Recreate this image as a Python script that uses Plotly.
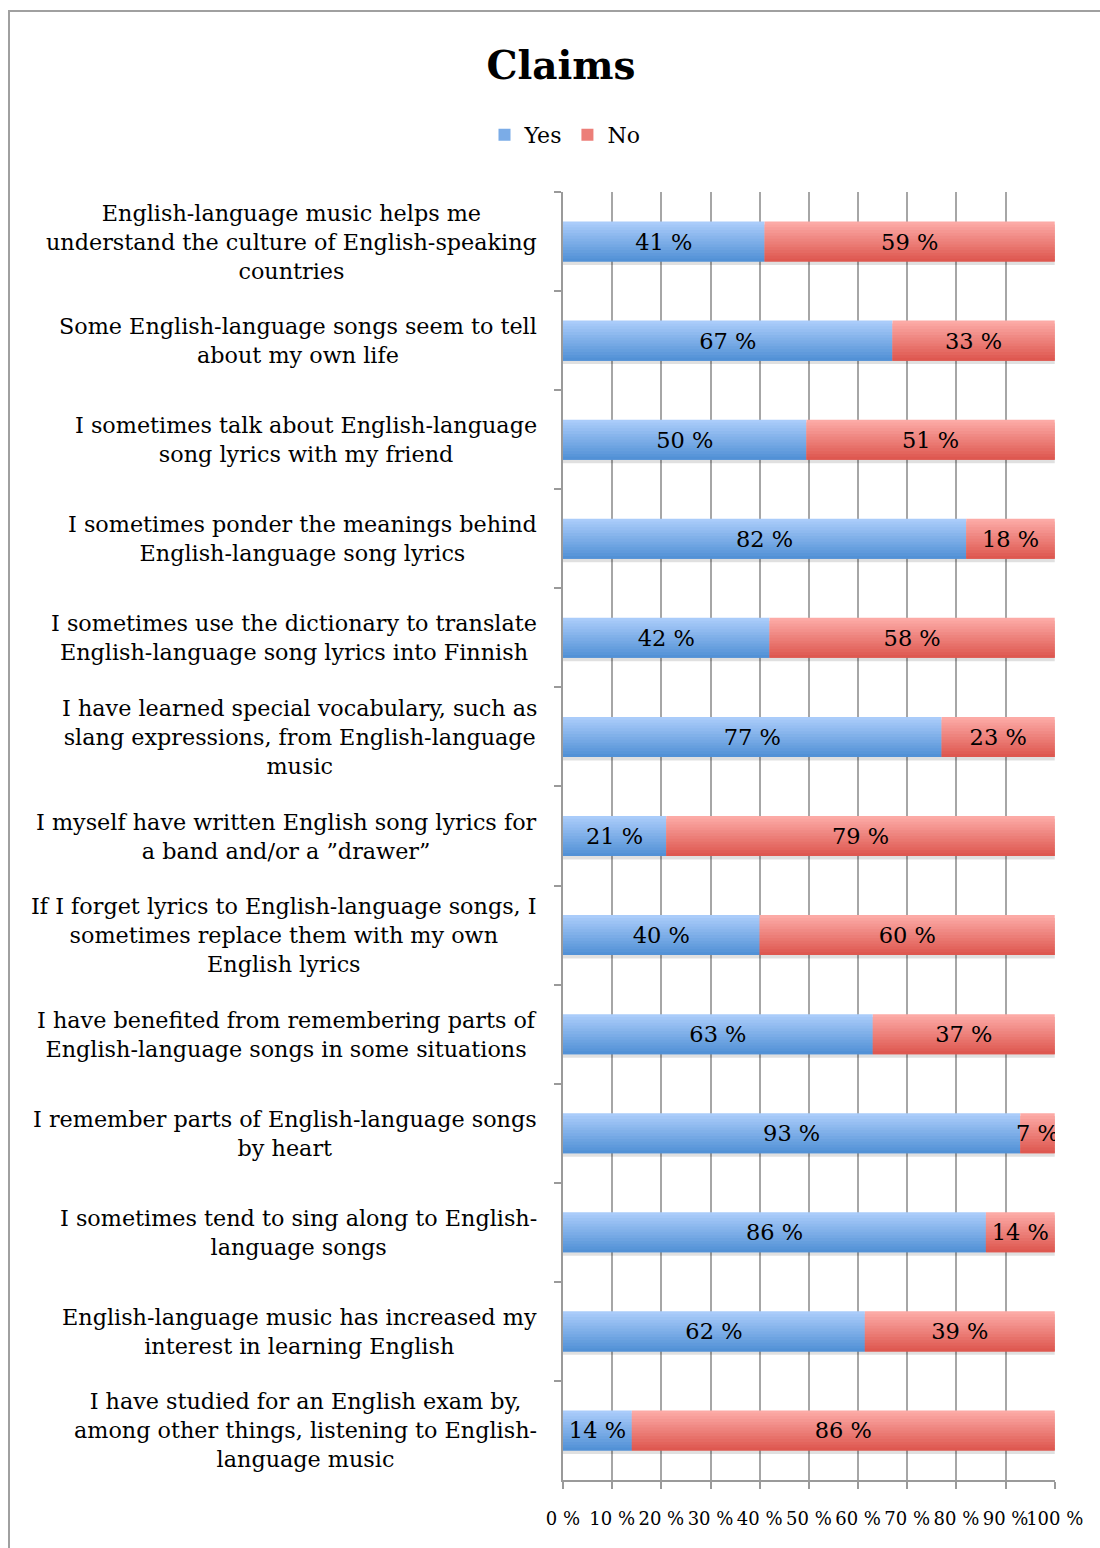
import plotly.graph_objects as go

# Survey statements (top to bottom) and answer percentages
claims = [
    "English-language music helps me<br>understand the culture of English-speaking<br>countries",
    "Some English-language songs seem to tell<br>about my own life",
    "I sometimes talk about English-language<br>song lyrics with my friend",
    "I sometimes ponder the meanings behind<br>English-language song lyrics",
    "I sometimes use the dictionary to translate<br>English-language song lyrics into Finnish",
    "I have learned special vocabulary, such as<br>slang expressions, from English-language<br>music",
    "I myself have written English song lyrics for<br>a band and/or a \u201ddrawer\u201d",
    "If I forget lyrics to English-language songs, I<br>sometimes replace them with my own<br>English lyrics",
    "I have benefited from remembering parts of<br>English-language songs in some situations",
    "I remember parts of English-language songs<br>by heart",
    "I sometimes tend to sing along to English-<br>language songs",
    "English-language music has increased my<br>interest in learning English",
    "I have studied for an English exam by,<br>among other things, listening to English-<br>language music",
]
yes_pct = [41, 67, 50, 82, 42, 77, 21, 40, 63, 93, 86, 62, 14]
no_pct = [59, 33, 51, 18, 58, 23, 79, 60, 37, 7, 14, 39, 86]

x_ticks = list(range(0, 101, 10))
x_tick_labels = [f"{t} %" for t in x_ticks]

FONT = "DejaVu Serif"
BAR_W = 0.404
N_SLICES = 14

# Each row is shown as a 100 % stacked bar
totals = [y + n for y, n in zip(yes_pct, no_pct)]
yes_share = [y / t * 100 for y, t in zip(yes_pct, totals)]
no_share = [n / t * 100 for n, t in zip(no_pct, totals)]

series = [
    ("Yes", yes_pct, yes_share, [0] * len(claims), (170, 204, 250), (82, 145, 214)),
    ("No", no_pct, no_share, yes_share, (252, 170, 166), (222, 88, 80)),
]

fig = go.Figure()

# soft drop shadow under each bar
fig.add_trace(go.Bar(
    y=claims, x=[100] * len(claims), base=0, orientation="h",
    width=BAR_W, offset=-BAR_W / 2 + 0.035,
    marker=dict(color="rgba(0,0,0,0.12)", line_width=0),
    showlegend=False, hoverinfo="skip",
))


def blend(c0, c1, t):
    return "rgb({},{},{})".format(*[round(a + (b - a) * t) for a, b in zip(c0, c1)])


# vertical gradient fill: overlapping horizontal slices from light (top) to dark (bottom)
sw = BAR_W / N_SLICES
for name, vals, share, base, top_c, bot_c in series:
    for k in range(N_SLICES):
        w = sw * 2 if k < N_SLICES - 1 else sw
        fig.add_trace(go.Bar(
            y=claims, x=share, base=base, orientation="h",
            width=w, offset=-BAR_W / 2 + k * sw,
            marker=dict(color=blend(top_c, bot_c, k / (N_SLICES - 1)), line_width=0),
            name=name, legendgroup=name,
            showlegend=(k == N_SLICES // 2),
            hoverinfo="skip",
        ))

# value labels
for name, vals, share, base, top_c, bot_c in series:
    fig.add_trace(go.Bar(
        y=claims, x=share, base=base, orientation="h",
        width=BAR_W, offset=-BAR_W / 2,
        marker=dict(color="rgba(0,0,0,0)", line_width=0),
        text=[f"{v} %" for v in vals], textposition="inside",
        insidetextanchor="middle", textangle=0, constraintext="none",
        textfont=dict(family=FONT, size=22.5, color="black"),
        showlegend=False, name=name,
        hovertemplate="%{y}: %{text}<extra>" + name + "</extra>",
    ))

# category labels, centred line by line
for c in claims:
    fig.add_annotation(
        x=0, xref="paper", y=c, yref="y", xanchor="right", yanchor="middle",
        xshift=-24, text=c, showarrow=False, align="center",
        font=dict(family=FONT, size=22.3, color="black"),
    )

# outer chart frame
fig.add_shape(
    type="rect", xref="paper", yref="paper",
    x0=(9 - 563) / 492, x1=(1110 - 563) / 492,
    y0=(1480 - 1570) / 1288, y1=1 + (192 - 11) / 1288,
    line=dict(color="#a0a0a0", width=2), fillcolor="rgba(0,0,0,0)", layer="below",
)

fig.update_layout(
    width=1100, height=1548,
    margin=dict(l=563, r=45, t=192, b=68),
    paper_bgcolor="white", plot_bgcolor="white",
    barmode="overlay",
    title=dict(text="<b>Claims</b>", x=561 / 1100, xanchor="center",
               y=1 - 65 / 1548, yanchor="middle",
               font=dict(family=FONT, size=39, color="black")),
    legend=dict(orientation="h", x=565 / 1100, xref="container", xanchor="center",
                y=1 - 135 / 1548, yref="container", yanchor="middle",
                font=dict(family=FONT, size=22, color="black"),
                itemwidth=30, tracegroupgap=0),
    showlegend=True,
    font=dict(family=FONT, color="black"),
)

fig.update_xaxes(
    range=[0, 100.05], tickvals=x_ticks, ticktext=x_tick_labels, tickangle=0,
    showgrid=True, gridcolor="#a6a6a6", gridwidth=2,
    showline=True, linecolor="#9a9a9a", linewidth=2,
    ticks="outside", ticklen=7, tickcolor="#9a9a9a", tickwidth=2,
    tickfont=dict(family=FONT, size=18, color="black"),
    ticklabelstandoff=14, zeroline=False,
)
fig.update_yaxes(
    categoryorder="array", categoryarray=claims, autorange="reversed",
    showticklabels=False, showgrid=False,
    showline=True, linecolor="#9a9a9a", linewidth=2,
    ticks="outside", tickson="boundaries", ticklen=7, tickcolor="#9a9a9a", tickwidth=2,
)

fig.write_html("out.html")
